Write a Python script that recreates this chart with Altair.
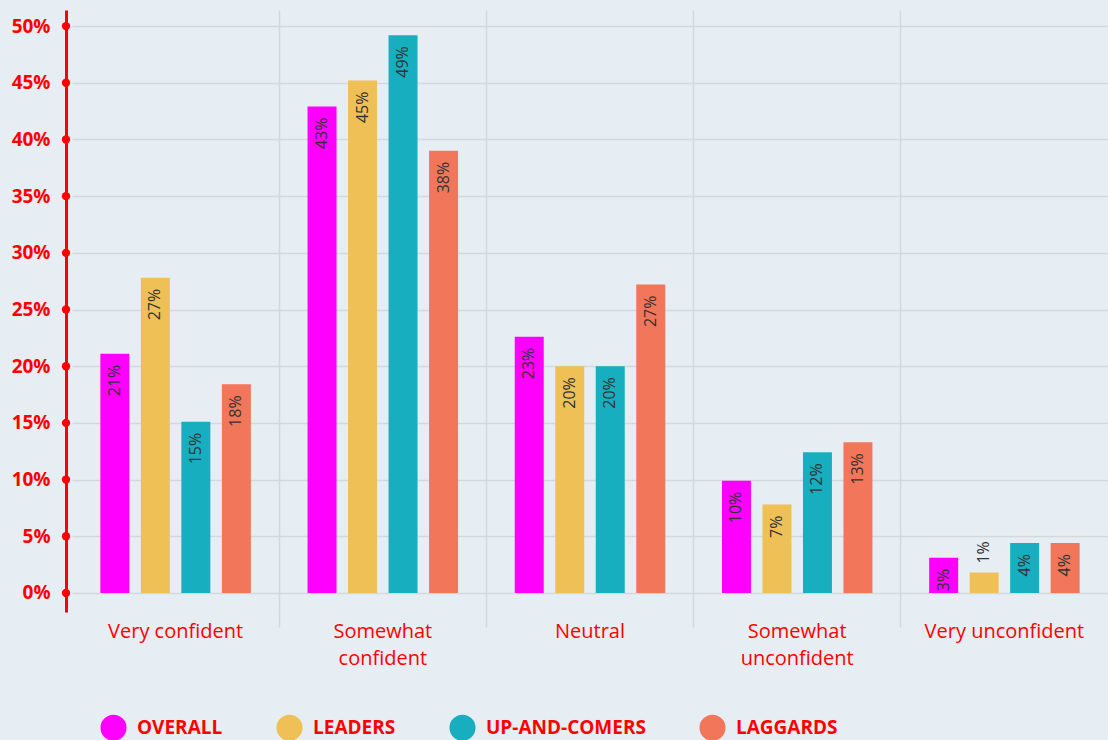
import altair as alt
import pandas as pd

categories = ["Very confident", "Somewhat confident", "Neutral", "Somewhat unconfident", "Very unconfident"]
series = ["OVERALL", "LEADERS", "UP-AND-COMERS", "LAGGARDS"]
colors = ["#ff00ff", "#efc056", "#17afbf", "#f27659"]

overall = [21.1, 42.9, 22.6, 9.9, 3.1]
leaders = [27.8, 45.2, 20.0, 7.8, 1.8]
upcomers = [15.1, 49.2, 20.0, 12.4, 4.4]
laggards = [18.4, 39.0, 27.2, 13.3, 4.4]

overall_lbl = ["21%", "43%", "23%", "10%", "3%"]
leaders_lbl = ["27%", "45%", "20%", "7%", "1%"]
upcomers_lbl = ["15%", "49%", "20%", "12%", "4%"]
laggards_lbl = ["18%", "38%", "27%", "13%", "4%"]

y_ticks = [0, 5, 10, 15, 20, 25, 30, 35, 40, 45, 50]

rows = []
for s, vals, lbls in zip(series, [overall, leaders, upcomers, laggards],
                         [overall_lbl, leaders_lbl, upcomers_lbl, laggards_lbl]):
    for c, v, l in zip(categories, vals, lbls):
        rows.append({"category": c, "series": s, "value": v, "label": l})
df = pd.DataFrame(rows)
ticks_df = pd.DataFrame({"t": y_ticks})

RED = "#ff0000"
GRID = "#d2d8dc"
BG = "#e6eef4"
FONT = "Open Sans"

yscale = alt.Scale(domain=[-1.68, 51.42], nice=False, zero=False)

x_enc = alt.X(
    "category:N", sort=categories,
    scale=alt.Scale(paddingInner=0, paddingOuter=0),
    axis=alt.Axis(
        title=None, domain=False, bandPosition=0, ticks=True, tickSize=15,
        tickWidth=1.5,
        tickColor=alt.condition("datum.value == 'Very confident'", alt.value("transparent"), alt.value(GRID)),
        grid=True, gridWidth=1.5,
        gridColor=alt.condition("datum.value == 'Very confident'", alt.value("transparent"), alt.value(GRID)),
        labelOffset=0, labelPadding=-6, labelFontSize=20, labelColor=RED,
        labelFont=FONT, labelAngle=0, labelLineHeight=27, labelBaseline="top",
        labelExpr="indexof(datum.label, 'Somewhat') == 0 ? split(datum.label, ' ') : datum.label",
    ),
)
xoff = alt.XOffset("series:N", sort=series,
                   scale=alt.Scale(paddingInner=0.284, paddingOuter=0.70))

y_enc = alt.Y(
    "value:Q", scale=yscale,
    axis=alt.Axis(
        title=None, values=y_ticks, offset=6, domainColor=RED, domainWidth=3,
        ticks=False, grid=True, gridColor=GRID, gridWidth=1.5,
        labelColor=RED, labelFontSize=19, labelFontWeight="bold", labelFont=FONT,
        labelPadding=16, labelExpr="datum.value + '%'",
    ),
)

bars = alt.Chart(df).mark_bar().encode(
    x=x_enc, xOffset=xoff, y=y_enc,
    color=alt.Color(
        "series:N", sort=series,
        scale=alt.Scale(domain=series, range=colors),
        legend=alt.Legend(
            title=None, orient="none", legendX=28, legendY=704, direction="horizontal",
            columns=4, symbolType="circle", symbolSize=680, symbolStrokeWidth=0,
            symbolOpacity=1, labelFont=FONT, labelFontSize=19, labelFontWeight="bold",
            labelColor=RED, labelOffset=10, columnPadding=53, padding=0,
        ),
    ),
)

text_in = alt.Chart(df).transform_filter("datum.value >= 2.5").mark_text(
    angle=270, align="right", baseline="middle", dx=-11, fontSize=16,
    font=FONT, color="#333333",
).encode(x=alt.X("category:N", sort=categories), xOffset=alt.XOffset("series:N", sort=series),
         y=alt.Y("value:Q"), text="label:N")

text_out = alt.Chart(df).transform_filter("datum.value < 2.5").mark_text(
    angle=270, align="left", baseline="middle", dx=9, fontSize=16,
    font=FONT, color="#333333",
).encode(x=alt.X("category:N", sort=categories), xOffset=alt.XOffset("series:N", sort=series),
         y=alt.Y("value:Q"), text="label:N")

dots = alt.Chart(ticks_df).mark_point(filled=True, size=70, color=RED, opacity=1).encode(
    x=alt.value(-6), y=alt.Y("t:Q")
)

chart = alt.layer(bars, text_in, text_out, dots).properties(
    width=1036, height=602,
    autosize=alt.AutoSizeParams(type="none"),
    padding={"left": 72, "top": 10, "right": 0, "bottom": 128},
    background=BG,
).configure_view(stroke=None)

chart.save("out.html", embed_options={"renderer": "svg", "actions": False})
